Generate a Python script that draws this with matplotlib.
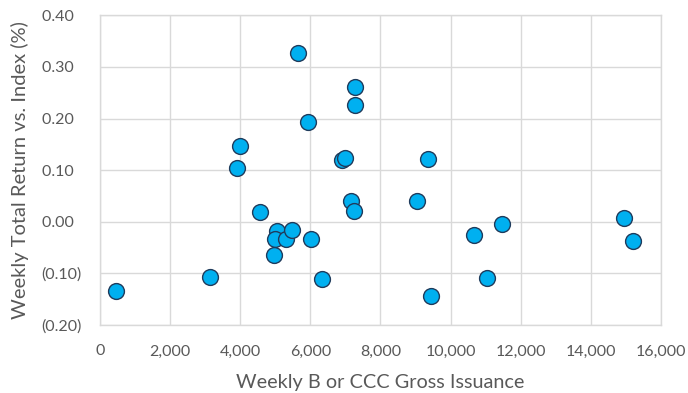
import matplotlib
matplotlib.use('Agg')
import matplotlib.pyplot as plt
from matplotlib.ticker import FuncFormatter, MultipleLocator

# weekly B/CCC gross issuance vs weekly total return relative to index
issuance = [470, 3150, 3920, 4000, 4570, 5650, 5940, 7280, 7280, 6910, 7000,
            7160, 7250, 5050, 5000, 5300, 5490, 4970, 6010, 6340, 9350,
            9030, 9430, 10660, 11460, 11040, 14950, 15200]
excess_ret = [-0.135, -0.107, 0.105, 0.146, 0.018, 0.327, 0.194, 0.261, 0.227,
              0.120, 0.124, 0.041, 0.021, -0.017, -0.034, -0.034, -0.015,
              -0.065, -0.034, -0.111, 0.122, 0.040, -0.144, -0.026, -0.004,
              -0.109, 0.007, -0.037]

plt.rcParams['font.family'] = ['Lato', 'DejaVu Sans']

fig = plt.figure(figsize=(6.88, 3.93), dpi=100)
ax = fig.add_axes([0.1453, 0.173, 0.8155, 0.788])

ax.scatter(issuance, excess_ret, s=130, color='#00B0F0', edgecolor='#1F3B5C',
           linewidth=1.0, zorder=3)

ax.set_xlim(0, 16000)
ax.set_ylim(-0.20, 0.40)
ax.xaxis.set_major_locator(MultipleLocator(2000))
ax.yaxis.set_major_locator(MultipleLocator(0.10))
ax.xaxis.set_major_formatter(FuncFormatter(lambda v, p: f'{v:,.0f}'))
# excel style: negatives in brackets, positives padded where ")" would be
ax.yaxis.set_major_formatter(FuncFormatter(
    lambda v, p: f'({abs(v):.2f})' if v < -1e-9 else f'{abs(v):.2f}  '))

ax.grid(True, color='#D9D9D9', linewidth=1.0, zorder=0)
for s in ax.spines.values():
    s.set_color('#D9D9D9')
    s.set_linewidth(1.0)
ax.tick_params(length=0, labelsize=11.5, colors='#595959')
ax.tick_params(axis='x', pad=14)
ax.tick_params(axis='y', pad=13)

ax.set_xlabel('Weekly B or CCC Gross Issuance', fontsize=14.3, color='#595959', labelpad=11)
ax.set_ylabel('Weekly Total Return vs. Index (%)', fontsize=14.5, color='#595959', labelpad=9)

fig.savefig('out.png', dpi=100)
